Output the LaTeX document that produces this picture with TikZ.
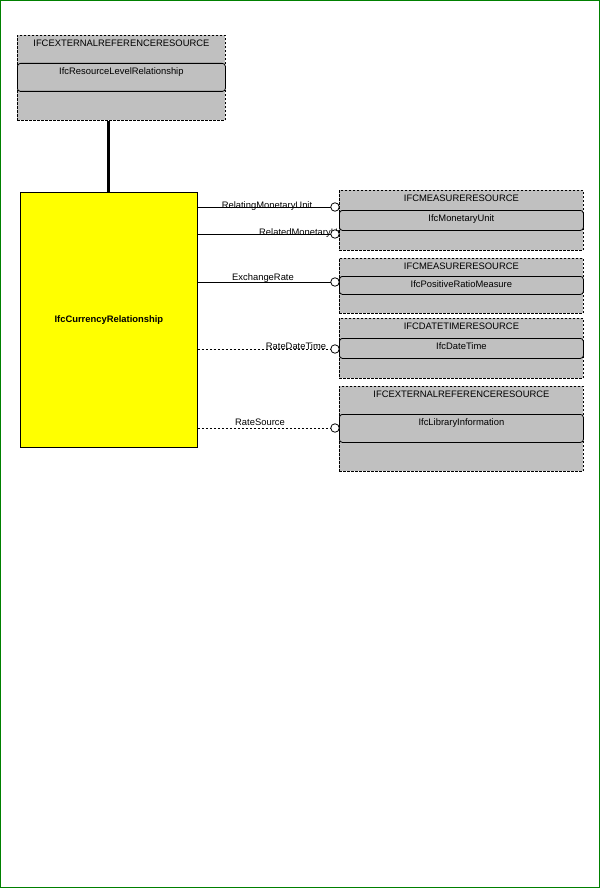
\documentclass[tikz,border=0pt]{standalone}
\usepackage{fontspec}
\setmainfont{Liberation Sans}
\usetikzlibrary{positioning}
\usetikzlibrary{calc}
\definecolor{schgrey}{RGB}{192,192,192}
\definecolor{schframe}{RGB}{0,128,0}
\definecolor{entyellow}{RGB}{255,255,0}

\begin{document}
\begin{tikzpicture}[x=1pt, y=-1pt, font=\fontsize{9.4}{11}\selectfont,
    SCH/.style={rectangle, draw=black, fill=schgrey, dash pattern=on 2.5pt off 1.5pt, line width=0.8pt, anchor=north west, minimum width=244pt, inner sep=0pt},
    ENT/.style={rectangle, rounded corners=3pt, draw=black, fill=schgrey, line width=0.8pt, anchor=north west, minimum width=244pt, inner sep=0pt},
    TXT/.style={anchor=north, inner sep=0pt},
    REL/.style={draw=black, line width=0.8pt},
    LBL/.style={inner sep=0pt, fill=none},
    END/.style={circle, draw=black, fill=white, line width=0.8pt, minimum size=8.5pt, inner sep=0pt}]

    \useasboundingbox (0,0) rectangle (600,888);
    \draw[schframe, line width=1pt] (0.5,0.5) rectangle (599.5,887.5);

    % top schema
    \node[SCH, minimum width=208pt, minimum height=85pt] (S0) at (17,35) {};
    \node[TXT, below=4.5pt of S0.north] {IFCEXTERNALREFERENCERESOURCE};
    \node[ENT, minimum width=208pt, minimum height=28pt] (E0) at (17,63) {};
    \node[TXT, below=4.5pt of E0.north] {IfcResourceLevelRelationship};

    % main entity
    \node[rectangle, draw=black, fill=entyellow, line width=0.8pt, anchor=north west, minimum width=177pt, minimum height=255pt] (CR) at (20,192)
        {\textbf{IfcCurrencyRelationship}};
    \draw[black, line width=3pt] (CR.north |- S0.south) -- (CR.north);

    % end points
    \coordinate (p1) at (335,207);
    \coordinate (p2) at (335,234);
    \coordinate (p3) at (335,282);
    \coordinate (p4) at (335,349);
    \coordinate (p5) at (335,428);

    \draw[REL] (CR.east |- p1) -- (p1);
    \draw[REL] (CR.east |- p2) -- (p2);
    \draw[REL] (CR.east |- p3) -- (p3);
    \draw[REL, dash pattern=on 2.5pt off 1.5pt] (CR.east |- p4) -- (p4);
    \draw[REL, dash pattern=on 2.5pt off 1.5pt] (CR.east |- p5) -- (p5);

    \node[LBL] at (267,206.5) {RelatingMonetaryUnit};
    \node[LBL, anchor=west] at (259,233.5) {RelatedMonetaryUnit};
    \node[LBL] at (263,278.5) {ExchangeRate};
    \node[LBL] at (296,346) {RateDateTime};
    \node[LBL] at (260,422) {RateSource};

    % right schemas
    \node[SCH, minimum height=60pt] (S1) at (339,190) {};
    \node[TXT, below=4.5pt of S1.north] {IFCMEASURERESOURCE};
    \node[ENT, minimum height=20pt] (E1) at (339,210) {};
    \node[TXT, below=4.5pt of E1.north] {IfcMonetaryUnit};

    \node[SCH, minimum height=55pt] (S2) at (339,258) {};
    \node[TXT, below=4.5pt of S2.north] {IFCMEASURERESOURCE};
    \node[ENT, minimum height=18pt] (E2) at (339,276) {};
    \node[TXT, below=4.5pt of E2.north] {IfcPositiveRatioMeasure};

    \node[SCH, minimum height=60pt] (S3) at (339,318) {};
    \node[TXT, below=4.5pt of S3.north] {IFCDATETIMERESOURCE};
    \node[ENT, minimum height=20pt] (E3) at (339,338) {};
    \node[TXT, below=4.5pt of E3.north] {IfcDateTime};

    \node[SCH, minimum height=85pt] (S4) at (339,386) {};
    \node[TXT, below=4.5pt of S4.north] {IFCEXTERNALREFERENCERESOURCE};
    \node[ENT, minimum height=28pt] (E4) at (339,414) {};
    \node[TXT, below=4.5pt of E4.north] {IfcLibraryInformation};

    \foreach \p in {p1,p2,p3,p4,p5}
        \node[END] at (\p) {};
\end{tikzpicture}
\end{document}
